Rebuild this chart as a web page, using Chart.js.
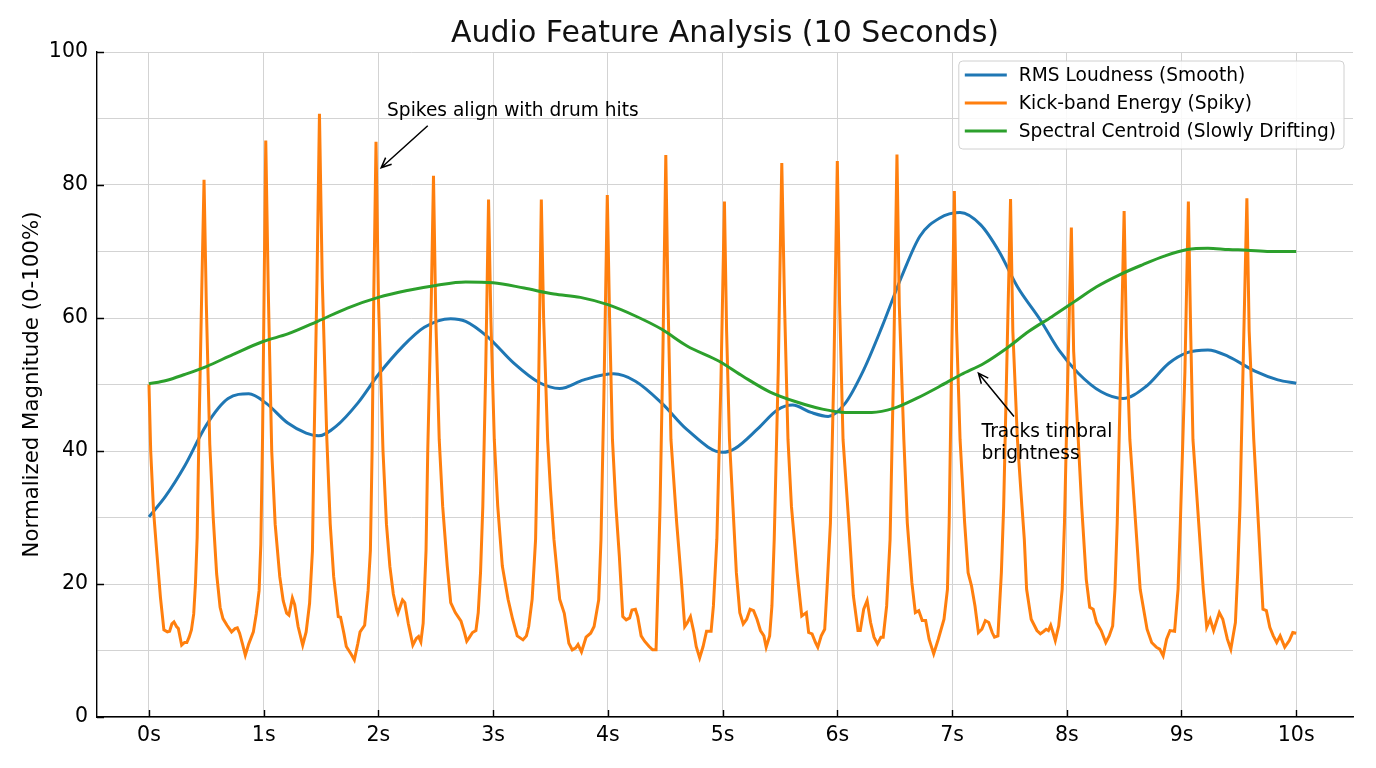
<!DOCTYPE html>
<html lang="en">
<head>
<meta charset="utf-8">
<title>Audio Feature Analysis (10 Seconds)</title>
<script src="https://cdn.jsdelivr.net/npm/chart.js@4.4.1/dist/chart.umd.min.js"></script>
<style>
  html, body { margin: 0; padding: 0; background: #fff; }
  #wrap { width: 1376px; height: 768px; }
</style>
</head>
<body>
<div id="wrap"><canvas id="audio-chart" width="1376" height="768"></canvas></div>
<script>
// ---- data ----
const chartTitle = 'Audio Feature Analysis (10 Seconds)';
const yAxisTitle = 'Normalized Magnitude (0-100%)';
const seriesLabels = ['RMS Loudness (Smooth)', 'Kick-band Energy (Spiky)', 'Spectral Centroid (Slowly Drifting)'];

const xTickValues = [0, 1, 2, 3, 4, 5, 6, 7, 8, 9, 10];
const xTickLabels = ['0s', '1s', '2s', '3s', '4s', '5s', '6s', '7s', '8s', '9s', '10s'];
const yGridValues = [0, 10, 20, 30, 40, 50, 60, 70, 80, 90, 100];
const yTickValues = [0, 20, 40, 60, 80, 100];

// RMS loudness
const rmsTimes = [0, 0.145, 0.31, 0.5, 0.69, 0.87, 1.02, 1.21, 1.37, 1.48, 1.63, 1.82, 2.0, 2.21, 2.4, 2.63, 2.76, 2.95,
  3.18, 3.4, 3.58, 3.79, 4.05, 4.24, 4.47, 4.69, 5.0, 5.11, 5.31, 5.48, 5.61, 5.77, 5.92, 6.07, 6.23, 6.39, 6.56, 6.72,
  6.89, 7.07, 7.25, 7.41, 7.57, 7.77, 7.93, 8.1, 8.3, 8.49, 8.69, 8.89, 9.05, 9.23, 9.41, 9.64, 9.84, 10];
const rmsValues = [30.1, 33.2, 37.7, 43.9, 47.9, 48.6, 47.2, 44.2, 42.7, 42.3, 43.7, 47.2, 51.5, 55.7, 58.6, 59.9, 59.5, 57.2,
  53.2, 50.3, 49.4, 50.7, 51.6, 50.5, 47.2, 43.2, 39.8, 40.4, 43.4, 46.2, 46.9, 45.8, 45.2, 47.2, 52.2, 58.7, 66.2, 72.3,
  75.0, 75.85, 74.0, 70.0, 64.7, 59.7, 55.2, 51.7, 48.9, 47.9, 49.7, 53.2, 54.8, 55.2, 54.2, 52.0, 50.7, 50.2];

// kick-band energy, one line per beat
const kickTimes = [
  0, 0.015, 0.04, 0.067, 0.1, 0.13, 0.16, 0.18, 0.2, 0.218, 0.24, 0.256, 0.285, 0.31, 0.33, 0.35, 0.37, 0.39, 0.405, 0.42, 0.435, 0.46,
  0.48, 0.50, 0.53, 0.56, 0.59, 0.62, 0.645, 0.68, 0.72, 0.75, 0.77, 0.79, 0.815, 0.84, 0.87, 0.91, 0.935, 0.96, 0.975, 0.99, 1.003,
  1.018, 1.04, 1.07, 1.10, 1.14, 1.17, 1.2, 1.22, 1.25, 1.27, 1.30, 1.34, 1.37, 1.40, 1.425, 1.44, 1.465,
  1.486, 1.51, 1.55, 1.58, 1.61, 1.65, 1.67, 1.70, 1.72, 1.76, 1.79, 1.82, 1.84, 1.88, 1.91, 1.93, 1.945, 1.96,
  1.979, 2.0, 2.04, 2.07, 2.10, 2.13, 2.16, 2.17, 2.21, 2.23, 2.26, 2.30, 2.33, 2.35, 2.37, 2.39, 2.415, 2.43, 2.46,
  2.48, 2.50, 2.53, 2.56, 2.60, 2.63, 2.67, 2.72, 2.75, 2.77, 2.79, 2.82, 2.85, 2.87, 2.89, 2.91, 2.935,
  2.96, 2.98, 3.01, 3.04, 3.08, 3.13, 3.17, 3.21, 3.26, 3.29, 3.31, 3.34, 3.37, 3.395,
  3.42, 3.44, 3.475, 3.50, 3.53, 3.58, 3.62, 3.66, 3.69, 3.72, 3.74, 3.77, 3.81, 3.85, 3.88, 3.92, 3.94, 3.965,
  3.995, 4.015, 4.04, 4.07, 4.10, 4.13, 4.16, 4.19, 4.21, 4.24, 4.26, 4.29, 4.32, 4.36, 4.39, 4.42, 4.44, 4.455, 4.48,
  4.505, 4.525, 4.55, 4.60, 4.64, 4.67, 4.69, 4.72, 4.75, 4.77, 4.80, 4.83, 4.86, 4.90, 4.92, 4.95, 4.985,
  5.016, 5.035, 5.06, 5.09, 5.12, 5.15, 5.18, 5.21, 5.24, 5.27, 5.30, 5.33, 5.36, 5.38, 5.41, 5.43, 5.45, 5.485,
  5.516, 5.54, 5.57, 5.60, 5.65, 5.69, 5.73, 5.75, 5.78, 5.81, 5.83, 5.86, 5.89, 5.91, 5.94, 5.97,
  6.0, 6.02, 6.05, 6.10, 6.14, 6.18, 6.20, 6.23, 6.26, 6.29, 6.32, 6.35, 6.38, 6.40, 6.43, 6.46, 6.49,
  6.52, 6.54, 6.58, 6.61, 6.65, 6.68, 6.71, 6.74, 6.77, 6.80, 6.84, 6.88, 6.93, 6.96, 6.975, 6.995,
  7.02, 7.04, 7.07, 7.11, 7.14, 7.17, 7.20, 7.23, 7.26, 7.29, 7.32, 7.35, 7.37, 7.40, 7.43, 7.45, 7.48,
  7.51, 7.53, 7.57, 7.6, 7.63, 7.65, 7.69, 7.74, 7.77, 7.80, 7.82, 7.84, 7.86, 7.88, 7.90, 7.93, 7.96, 7.98, 8.01,
  8.04, 8.06, 8.10, 8.13, 8.17, 8.20, 8.23, 8.26, 8.30, 8.34, 8.37, 8.40, 8.42, 8.44, 8.47,
  8.50, 8.52, 8.55, 8.60, 8.64, 8.70, 8.74, 8.78, 8.81, 8.84, 8.87, 8.90, 8.94, 8.97, 8.99, 9.03,
  9.06, 9.08, 9.10, 9.15, 9.19, 9.22, 9.25, 9.28, 9.33, 9.36, 9.40, 9.43, 9.47, 9.49, 9.51, 9.54,
  9.57, 9.59, 9.63, 9.67, 9.71, 9.74, 9.77, 9.80, 9.83, 9.86, 9.90, 9.94, 9.97, 10.0
];
const kickValues = [
  50, 40, 31, 25, 18, 13.1, 12.8, 12.9, 14, 14.3, 13.6, 13.3, 10.8, 11.2, 11.2, 12, 13.1, 15.5, 20, 27, 42, 64,
  80.8, 62, 41, 30, 21.5, 16.5, 14.8, 13.8, 12.8, 13.3, 13.4, 12.6, 11, 9.3, 11, 12.8, 15.5, 19, 26, 42, 63,
  86.7, 64, 40, 29, 21.1, 17.5, 15.6, 15.3, 17.9, 16.9, 13.6, 10.8, 12.8, 17.1, 25, 42, 66,
  90.7, 66, 42, 29, 21.1, 15.1, 15, 12.5, 10.6, 9.5, 8.6, 11, 12.8, 13.8, 19, 25, 40, 64,
  86.5, 63, 40, 29, 22.6, 18.5, 16.1, 15.6, 17.6, 17.2, 14.1, 10.8, 11.8, 12.1, 11.3, 14.1, 25, 40, 62,
  81.4, 60, 41.7, 31.7, 22.7, 17.2, 15.7, 14.4, 12.7, 11.4, 11.9, 12.7, 13, 15.7, 21.7, 31.7, 52,
  77.8, 60, 41.7, 31.7, 22.7, 17.7, 14.7, 12.2, 11.6, 12.2, 13.6, 17.7, 26.7, 48,
  77.8, 60, 41.7, 34.2, 26.7, 17.7, 15.6, 11.1, 10.1, 10.4, 10.9, 9.8, 12.0, 12.6, 13.6, 17.6, 26.7, 48,
  78.5, 60, 41.7, 31.7, 24.2, 15.1, 14.6, 14.9, 16.1, 16.2, 15.1, 12.2, 11.4, 10.6, 10.1, 10.1, 21.7, 31.7, 55,
  84.5, 62, 41.7, 29.2, 20.7, 13.6, 14.1, 15.1, 12.7, 10.6, 8.9, 10.6, 12.9, 12.9, 16.7, 26.7, 50,
  77.5, 58, 41.7, 31.7, 21.7, 15.7, 14, 14.7, 16.2, 16, 14.7, 13, 12.2, 10.5, 12.2, 16.7, 26.7, 52,
  83.3, 62, 41.7, 31.7, 21.7, 15.2, 15.7, 12.7, 12.5, 11.2, 10.5, 12.2, 13.2, 19.2, 29.2, 52,
  83.6, 62, 41.7, 29.2, 18.2, 13, 13, 16.2, 17.5, 14.2, 12, 11, 12, 12, 16.7, 26.7, 52,
  84.6, 62, 41.7, 29.2, 20.2, 15.7, 16, 14.5, 14.5, 11.7, 9.5, 11.7, 14.7, 19.2, 29.2, 52,
  79.1, 58, 41.7, 29.2, 21.7, 19.7, 16.7, 12.7, 13.2, 14.5, 14.2, 12.7, 12, 12.2, 21.7, 31.7, 55,
  77.9, 58, 41.7, 34, 26.7, 19.2, 14.7, 13, 12.5, 12.9, 13.2, 13, 13.8, 12.7, 11.5, 13.7, 19.2, 29.2, 52,
  73.6, 55, 41.7, 31.7, 20.7, 16.5, 16.2, 14.2, 13, 11.2, 12.2, 13.7, 19.2, 29.2, 52,
  76.1, 57, 41.7, 29.2, 19.2, 13.2, 11.2, 10.5, 10.2, 9.2, 11.7, 13, 12.9, 19.2, 29.2, 52,
  77.5, 58, 41.7, 29.2, 19.2, 13.5, 14.7, 13, 15.7, 14.7, 11.7, 10.2, 14.2, 21.7, 31.7, 55,
  78.0, 58, 41.7, 29.2, 16.2, 16, 13.5, 12.2, 11.2, 12.2, 10.5, 11.5, 12.7, 12.6
];

// spectral centroid
const centroidTimes = [0, 0.15, 0.31, 0.5, 0.73, 1.0, 1.21, 1.47, 1.73, 2.0, 2.24, 2.5, 2.76, 3.0, 3.27, 3.53, 3.76, 4.0,
  4.24, 4.47, 4.69, 4.97, 5.18, 5.41, 5.64, 5.87, 6.07, 6.3, 6.49, 6.69, 6.89, 7.08, 7.28, 7.48, 7.67, 7.87, 8.07,
  8.26, 8.46, 8.66, 8.85, 9.05, 9.23, 9.41, 9.57, 9.77, 10];
const centroidValues = [50.1, 50.6, 51.5, 52.7, 54.5, 56.5, 57.6, 59.5, 61.5, 63.1, 64.1, 64.9, 65.4, 65.3, 64.5, 63.6, 63.1, 62.0,
  60.3, 58.3, 55.8, 53.5, 51.2, 48.9, 47.4, 46.3, 45.8, 45.8, 46.4, 47.9, 49.7, 51.5, 53.2, 55.5, 58.0, 60.2, 62.5,
  64.7, 66.5, 68.0, 69.3, 70.3, 70.5, 70.3, 70.2, 70.0, 70.0];

// annotations: [time, value] anchors
const notes = [
  { lines: ['Spikes align with drum hits'], text: [2.075, 90.4], from: [2.43, 88.9], to: [2.024, 82.6] },
  { lines: ['Tracks timbral', 'brightness'], text: [7.257, 42.06], from: [7.54, 45.2], to: [7.23, 51.7] }
];

const FONT = "'DejaVu Sans', sans-serif";
const colors = ['#1f77b4', '#ff7f0e', '#2ca02c'];

function toPoints(times, values) {
  if (times.length !== values.length) console.error('length mismatch', times.length, values.length);
  return times.map((t, i) => ({ x: t, y: values[i] }));
}

// inward tick marks, like the reference
const inwardTicks = {
  id: 'inwardTicks',
  afterDraw(chart) {
    const { ctx, chartArea, scales: { x, y } } = chart;
    ctx.save();
    ctx.strokeStyle = '#000';
    ctx.lineWidth = 1.4;
    ctx.beginPath();
    xTickValues.forEach(v => {
      const px = Math.round(x.getPixelForValue(v)) + 0.5;
      ctx.moveTo(px, chartArea.bottom);
      ctx.lineTo(px, chartArea.bottom - 7);
    });
    yTickValues.forEach(v => {
      const py = Math.round(y.getPixelForValue(v)) + 0.5;
      ctx.moveTo(chartArea.left, py);
      ctx.lineTo(chartArea.left + 7, py);
    });
    ctx.stroke();
    ctx.restore();
  }
};

function drawArrow(ctx, x1, y1, x2, y2) {
  const ang = Math.atan2(y2 - y1, x2 - x1);
  const head = 11;
  ctx.beginPath();
  ctx.moveTo(x1, y1);
  ctx.lineTo(x2, y2);
  ctx.moveTo(x2 - head * Math.cos(ang - 0.42), y2 - head * Math.sin(ang - 0.42));
  ctx.lineTo(x2, y2);
  ctx.lineTo(x2 - head * Math.cos(ang + 0.42), y2 - head * Math.sin(ang + 0.42));
  ctx.stroke();
}

const noteLayer = {
  id: 'noteLayer',
  afterDraw(chart) {
    const { ctx, scales: { x, y } } = chart;
    ctx.save();
    ctx.font = `18.6px ${FONT}`;
    ctx.fillStyle = '#000';
    ctx.strokeStyle = '#000';
    ctx.lineWidth = 1.5;
    ctx.textBaseline = 'alphabetic';
    notes.forEach(n => {
      const tx = x.getPixelForValue(n.text[0]);
      const ty = y.getPixelForValue(n.text[1]);
      n.lines.forEach((line, i) => ctx.fillText(line, tx, ty + i * 21.5));
      drawArrow(ctx, x.getPixelForValue(n.from[0]), y.getPixelForValue(n.from[1]),
        x.getPixelForValue(n.to[0]), y.getPixelForValue(n.to[1]));
    });
    ctx.restore();
  }
};

// legend box in the upper right corner of the plot
const legendBox = {
  id: 'legendBox',
  afterDraw(chart) {
    const { ctx, chartArea } = chart;
    const items = chart.data.datasets;
    ctx.save();
    ctx.font = `18.6px ${FONT}`;
    const textW = Math.max(...items.map(d => ctx.measureText(d.label).width));
    const w = textW + 68, h = 88;
    const bx = chartArea.right - 9 - w, by = chartArea.top + 9;
    ctx.beginPath();
    if (ctx.roundRect) ctx.roundRect(bx, by, w, h, 4); else ctx.rect(bx, by, w, h);
    ctx.fillStyle = 'rgba(255,255,255,0.85)';
    ctx.fill();
    ctx.strokeStyle = '#d0d0d0';
    ctx.lineWidth = 1;
    ctx.stroke();
    items.forEach((d, i) => {
      const rowY = by + 14 + i * 28;
      ctx.beginPath();
      ctx.moveTo(bx + 6, rowY);
      ctx.lineTo(bx + 48, rowY);
      ctx.strokeStyle = d.borderColor;
      ctx.lineWidth = d.borderWidth;
      ctx.stroke();
      ctx.fillStyle = '#000';
      ctx.textBaseline = 'middle';
      ctx.fillText(d.label, bx + 60, rowY + 1);
    });
    ctx.restore();
  }
};

Chart.defaults.font.family = FONT;
Chart.defaults.color = '#000';

const canvas = document.getElementById('audio-chart');

new Chart(canvas, {
  type: 'line',
  data: {
    datasets: [
      {
        label: seriesLabels[0],
        data: toPoints(rmsTimes, rmsValues),
        borderColor: colors[0],
        borderWidth: 3,
        pointRadius: 0,
        cubicInterpolationMode: 'monotone',
        order: 3
      },
      {
        label: seriesLabels[1],
        data: toPoints(kickTimes, kickValues),
        borderColor: colors[1],
        borderWidth: 3,
        pointRadius: 0,
        tension: 0,
        order: 2
      },
      {
        label: seriesLabels[2],
        data: toPoints(centroidTimes, centroidValues),
        borderColor: colors[2],
        borderWidth: 3,
        pointRadius: 0,
        cubicInterpolationMode: 'monotone',
        order: 1
      }
    ]
  },
  options: {
    responsive: false,
    animation: false,
    devicePixelRatio: 1,
    layout: { padding: { left: 0, right: 23, top: 0, bottom: 0 } },
    scales: {
      x: {
        type: 'linear',
        min: -0.453,
        max: 10.495,
        afterBuildTicks: s => { s.ticks = xTickValues.map(v => ({ value: v })); },
        afterFit: s => { s.height = 51; },
        grid: { color: '#d3d3d3', lineWidth: 1, drawTicks: false },
        border: { color: '#000', width: 1.4 },
        ticks: {
          autoSkip: false,
          maxRotation: 0,
          padding: 6,
          font: { size: 20.5 },
          callback: v => xTickLabels[xTickValues.indexOf(v)]
        }
      },
      y: {
        min: 0,
        max: 100,
        afterBuildTicks: s => { s.ticks = yGridValues.map(v => ({ value: v })); },
        afterFit: s => { s.width = 97; },
        grid: { color: '#d3d3d3', lineWidth: 1, drawTicks: false },
        border: { color: '#000', width: 1.4 },
        ticks: {
          autoSkip: false,
          padding: 9,
          font: { size: 20.5 },
          callback: v => (yTickValues.includes(v) ? String(v) : '')
        },
        title: {
          display: true,
          text: yAxisTitle,
          font: { size: 21.3 },
          padding: { top: 19.7, bottom: 0 }
        }
      }
    },
    plugins: {
      legend: { display: false },
      tooltip: { enabled: false },
      title: {
        display: true,
        text: chartTitle,
        fullSize: false,
        color: '#111',
        font: { size: 30, weight: 'normal' },
        padding: { top: 16, bottom: 0 }
      }
    }
  },
  plugins: [inwardTicks, noteLayer, legendBox]
});
</script>
</body>
</html>
